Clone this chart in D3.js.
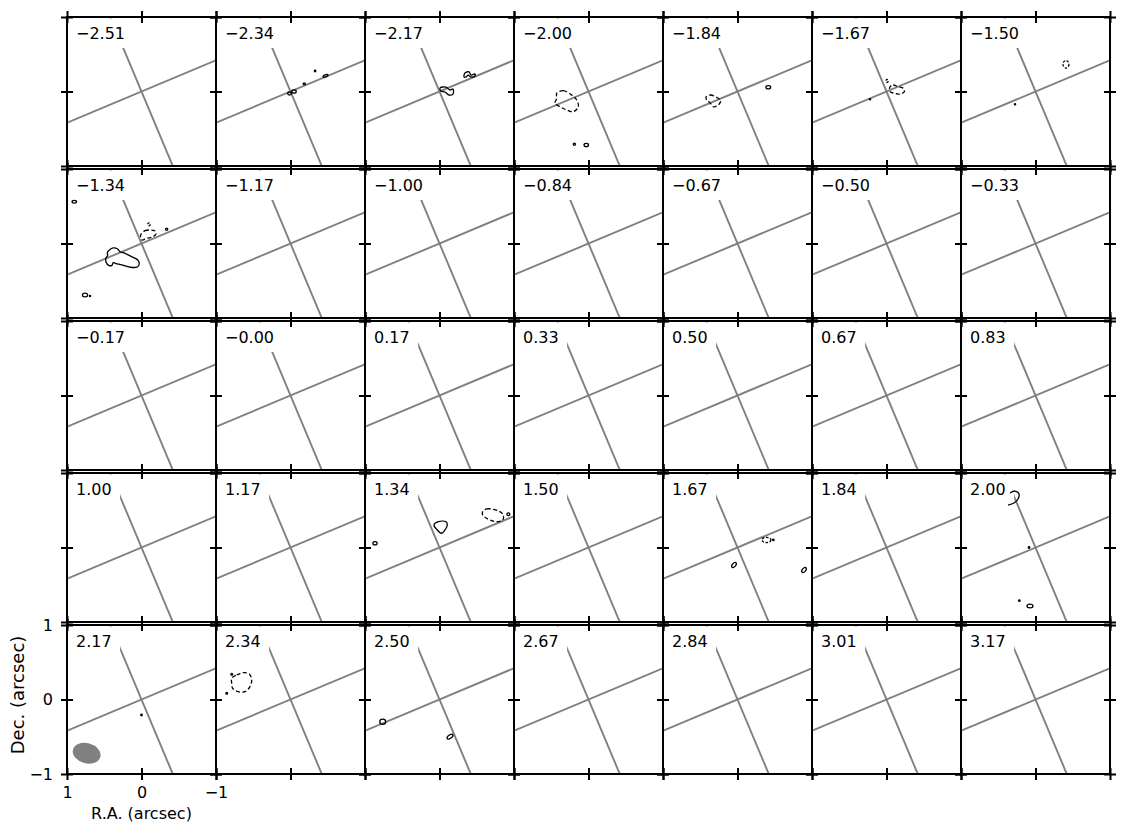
<!DOCTYPE html>
<html>
<head>
<meta charset="utf-8">
<script src="https://cdn.jsdelivr.net/npm/d3@7"></script>
<style>
  html, body { margin: 0; padding: 0; background: #fff; }
  svg { display: block; font-family: "DejaVu Sans", sans-serif; }
</style>
</head>
<body>
<svg id="chart" width="1126" height="831"></svg>
<script>
// ---------------- DATA ----------------
const velocityLabels = [
  "\u22122.51", "\u22122.34", "\u22122.17", "\u22122.00", "\u22121.84", "\u22121.67", "\u22121.50",
  "\u22121.34", "\u22121.17", "\u22121.00", "\u22120.84", "\u22120.67", "\u22120.50", "\u22120.33",
  "\u22120.17", "\u22120.00", "0.17", "0.33", "0.50", "0.67", "0.83",
  "1.00", "1.17", "1.34", "1.50", "1.67", "1.84", "2.00",
  "2.17", "2.34", "2.50", "2.67", "2.84", "3.01", "3.17"
];
const axisTicks = [-1, 0, 1];
const axisTickLabels = ["\u22121", "0", "1"];
const raDomain = [1, -1];     // arcsec (east to the left)
const decDomain = [-1, 1];    // arcsec

// guide lines (arcsec): major and minor axis through the centre
const guideLines = [
  [[1.6, -0.672], [-1.6, 0.672]],
  [[-0.63, -1.5], [0.63, 1.5]]
];

// beam ellipse (arcsec), drawn in the first panel of the last row
const beam = { panel: 28, x: 0.736, y: -0.722, rx: 0.19, ry: 0.135, rot: 15 };

// contour outlines (arcsec): panel index, style, closed?, points
const contourPanels = [2, 2, 3, 4, 5, 7, 7, 23, 23, 27, 29];
const contourStyles = ["solid", "solid", "dashed", "dashed", "dashed", "solid", "dashed", "solid", "dashed", "solid", "dashed"];
const contourClosed = [true, true, true, true, true, true, true, true, true, false, true];
const contourPoints = [
  [[-0.007,0.047],[-0.087,0.060],[-0.141,0.020],[-0.181,0.034],[-0.181,-0.034],[-0.128,-0.047],[-0.074,-0.007],[-0.020,0.007]],
  [[-0.329,0.195],[-0.342,0.248],[-0.396,0.262],[-0.423,0.221],[-0.477,0.235],[-0.477,0.208],[-0.423,0.195],[-0.383,0.221],[-0.356,0.195]],
  [[0.427,-0.024],[0.338,0.011],[0.226,-0.047],[0.158,-0.114],[0.137,-0.204],[0.204,-0.271],[0.293,-0.248],[0.383,-0.204],[0.450,-0.158],[0.427,-0.091]],
  [[0.423,-0.078],[0.369,-0.047],[0.279,-0.078],[0.226,-0.123],[0.258,-0.181],[0.325,-0.204],[0.369,-0.150],[0.413,-0.114]],
  [[-0.047,0.064],[-0.091,0.087],[-0.158,0.064],[-0.226,0.043],[-0.239,-0.003],[-0.181,-0.034],[-0.114,-0.024],[-0.047,-0.003]],
  [[0.432,-0.087],[0.379,-0.060],[0.325,-0.070],[0.289,-0.110],[0.221,-0.132],[0.132,-0.177],[0.051,-0.221],[0.030,-0.275],[0.056,-0.315],[0.145,-0.319],[0.244,-0.293],[0.325,-0.275],[0.379,-0.258],[0.396,-0.293],[0.440,-0.293],[0.477,-0.248],[0.477,-0.195],[0.454,-0.158],[0.459,-0.123]],
  [[0.011,0.114],[-0.047,0.172],[-0.114,0.181],[-0.181,0.168],[-0.195,0.128],[-0.154,0.091],[-0.074,0.070],[-0.003,0.047]],
  [[0.074,0.302],[0.016,0.346],[-0.087,0.346],[-0.105,0.302],[-0.074,0.235],[-0.030,0.191],[0.030,0.235]],
  [[-0.580,0.481],[-0.634,0.517],[-0.722,0.513],[-0.812,0.481],[-0.856,0.436],[-0.848,0.369],[-0.768,0.346],[-0.701,0.360],[-0.634,0.392],[-0.580,0.436]],
  [[0.342,0.732],[0.275,0.758],[0.221,0.718],[0.235,0.651],[0.289,0.597],[0.369,0.570]],
  [[0.789,0.285],[0.722,0.329],[0.634,0.360],[0.553,0.342],[0.521,0.262],[0.544,0.172],[0.611,0.105],[0.701,0.105],[0.776,0.150],[0.789,0.217]]
];

// small contour islands (arcsec): panel, centre, radii, rotation (deg), style
const blobPanels = [1, 1, 1, 1, 1, 3, 3, 4, 5, 5, 6, 6, 7, 7, 7, 7, 7, 23, 23, 25, 25, 25, 25, 27, 27, 27, 28, 29, 29, 30, 30];
const blobX =  [0.013,-0.047,-0.185,-0.33,-0.47, 0.19,0.03, -0.413, -0.007,0.221, -0.409,0.275, 0.902,-0.101,-0.338,0.758,0.691, 0.866,-0.924, -0.389,-0.481,0.047,-0.893, 0.087,0.217,0.074, 0.0, 0.789,0.856, 0.762,-0.141];
const blobY =  [-0.027,0.0,0.103,0.275,0.21, -0.709,-0.718, 0.056, 0.141,-0.105, 0.365,-0.172, 0.561,0.258,0.191,-0.691,-0.705, 0.056,0.446, 0.101,0.101,-0.235,-0.302, 0.0,-0.714,-0.785, -0.208, 0.338,0.083, -0.298,-0.499];
const blobRx = [0.025,0.03,0.015,0.01,0.035, 0.015,0.03, 0.032, 0.015,0.008, 0.04,0.008, 0.03,0.018,0.015,0.035,0.008, 0.028,0.02, 0.06,0.01,0.04,0.04, 0.01,0.01,0.04, 0.01, 0.012,0.012, 0.04,0.045];
const blobRy = [0.02,0.022,0.012,0.01,0.015, 0.015,0.022, 0.022, 0.02,0.008, 0.05,0.008, 0.018,0.02,0.015,0.025,0.008, 0.022,0.018, 0.035,0.01,0.022,0.022, 0.01,0.01,0.025, 0.01, 0.012,0.012, 0.035,0.022];
const blobRot = [0,0,0,0,-20, 0,0, 0, 0,0, 0,0, 0,0,0,0,0, 0,0, 0,0,-50,-50, 0,0,0, 0, 0,0, 0,-35];
const blobStyles = ["solid","solid","solid","solid","solid", "solid","solid", "solid", "dashed","solid", "dashed","solid", "solid","dashed","solid","solid","solid", "solid","solid", "dashed","solid","solid","solid", "solid","solid","solid", "solid", "solid","solid", "solid","solid"];

// ---------------- LAYOUT ----------------
const nCols = 7, nRows = 5;
const panelSize = 149;
const left0 = 67, top0 = 17, colStep = 149, rowStep = 152;

const svg = d3.select("#chart");
const x = d3.scaleLinear().domain(raDomain).range([0, panelSize]);
const y = d3.scaleLinear().domain(decDomain).range([panelSize, 0]);

const closedLine = d3.line().x(d => x(d[0])).y(d => y(d[1])).curve(d3.curveCatmullRomClosed.alpha(0.5));
const openLine = d3.line().x(d => x(d[0])).y(d => y(d[1])).curve(d3.curveCatmullRom.alpha(0.5));

const defs = svg.append("defs");
defs.append("clipPath").attr("id", "pclip")
  .append("rect").attr("x", 0).attr("y", 0).attr("width", panelSize).attr("height", panelSize);

const fmt = v => axisTickLabels[axisTicks.indexOf(v)];

velocityLabels.forEach((lab, i) => {
  const r = Math.floor(i / nCols), c = i % nCols;
  const g = svg.append("g").attr("transform", `translate(${left0 + c * colStep},${top0 + r * rowStep})`);
  const inner = g.append("g").attr("clip-path", "url(#pclip)");

  // guide lines
  guideLines.forEach(l => {
    inner.append("line")
      .attr("x1", x(l[0][0])).attr("y1", y(l[0][1]))
      .attr("x2", x(l[1][0])).attr("y2", y(l[1][1]))
      .attr("stroke", "#808080").attr("stroke-width", 1.9);
  });

  // beam
  if (beam.panel === i) {
    inner.append("ellipse")
      .attr("cx", x(beam.x)).attr("cy", y(beam.y))
      .attr("rx", Math.abs(x(beam.rx) - x(0))).attr("ry", Math.abs(y(beam.ry) - y(0)))
      .attr("transform", `rotate(${beam.rot},${x(beam.x)},${y(beam.y)})`)
      .attr("fill", "#808080");
  }

  // label with white box
  const lbl = g.append("g");
  const txt = lbl.append("text").attr("x", 9).attr("y", 22)
    .attr("font-size", 16).attr("fill", "#000").text(lab);
  const tw = txt.node().getComputedTextLength();
  lbl.insert("rect", "text").attr("x", 1.5).attr("y", 1.5)
    .attr("width", 9 + tw + 7).attr("height", 29.5).attr("fill", "#fff");

  // contours
  const cg = g.append("g").attr("clip-path", "url(#pclip)");
  contourPoints.forEach((pts, k) => {
    if (contourPanels[k] !== i) return;
    cg.append("path")
      .attr("d", contourClosed[k] ? closedLine(pts) : openLine(pts))
      .attr("fill", "none").attr("stroke", "#000").attr("stroke-width", 1.3)
      .attr("stroke-dasharray", contourStyles[k] === "dashed" ? "4,2.5" : null);
  });
  blobPanels.forEach((p, k) => {
    if (p !== i) return;
    const cx = x(blobX[k]), cy = y(blobY[k]);
    cg.append("ellipse")
      .attr("cx", cx).attr("cy", cy)
      .attr("rx", Math.abs(x(blobRx[k]) - x(0))).attr("ry", Math.abs(y(blobRy[k]) - y(0)))
      .attr("transform", `rotate(${blobRot[k]},${cx},${cy})`)
      .attr("fill", "none").attr("stroke", "#000").attr("stroke-width", 1.3)
      .attr("stroke-dasharray", blobStyles[k] === "dashed" ? "2.5,1.5" : null);
  });

  // frame
  g.append("rect").attr("x", 0).attr("y", 0).attr("width", panelSize).attr("height", panelSize)
    .attr("fill", "none").attr("stroke", "#000").attr("stroke-width", 2);

  const showLabels = (r === nRows - 1 && c === 0);
  const styleAxis = (ax) => {
    ax.select(".domain").remove();
    ax.selectAll(".tick line").attr("stroke", "#000").attr("stroke-width", 2);
    ax.selectAll(".tick text").attr("font-size", 16).attr("font-family", "DejaVu Sans, sans-serif").attr("fill", "#000");
    if (!showLabels) ax.selectAll(".tick text").remove();
  };
  const axB = g.append("g").attr("transform", `translate(0,${panelSize})`)
    .call(d3.axisBottom(x).tickValues(axisTicks).tickFormat(fmt).tickSize(6).tickPadding(7));
  axB.selectAll(".tick line").attr("y1", -6).attr("y2", 6);
  styleAxis(axB);
  const axT = g.append("g")
    .call(d3.axisTop(x).tickValues(axisTicks).tickSize(6).tickFormat(""));
  axT.selectAll(".tick line").attr("y1", 6).attr("y2", -6);
  styleAxis(axT); axT.selectAll(".tick text").remove();
  const axL = g.append("g")
    .call(d3.axisLeft(y).tickValues(axisTicks).tickFormat(fmt).tickSize(6).tickPadding(8));
  axL.selectAll(".tick line").attr("x1", 6).attr("x2", -6);
  styleAxis(axL);
  const axR = g.append("g").attr("transform", `translate(${panelSize},0)`)
    .call(d3.axisRight(y).tickValues(axisTicks).tickSize(6).tickFormat(""));
  axR.selectAll(".tick line").attr("x1", -6).attr("x2", 6);
  styleAxis(axR); axR.selectAll(".tick text").remove();
});

// axis titles
svg.append("text")
  .attr("x", left0 + panelSize / 2).attr("y", 819)
  .attr("text-anchor", "middle").attr("font-size", 16).attr("fill", "#000")
  .text("R.A. (arcsec)");
svg.append("text")
  .attr("transform", `translate(23.5,695) rotate(-90)`)
  .attr("text-anchor", "middle").attr("font-size", 18).attr("fill", "#000")
  .text("Dec. (arcsec)");
</script>
</body>
</html>
